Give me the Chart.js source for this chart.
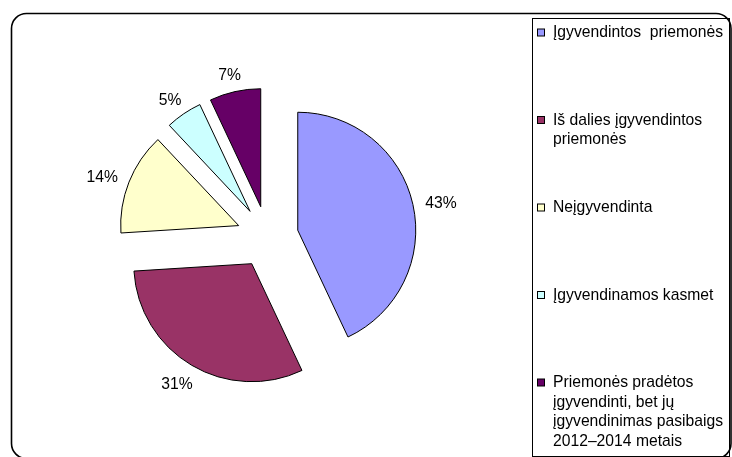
<!DOCTYPE html>
<html>
<head>
<meta charset="utf-8">
<script src="https://cdn.jsdelivr.net/npm/chart.js@4/dist/chart.umd.min.js"></script>
<style>
  html, body { margin: 0; padding: 0; background: #fff; }
  #chart { display: block; }
</style>
</head>
<body>
<canvas id="chart" width="732" height="457"></canvas>
<script>
// legend text, one array per slice (already broken into the lines shown)
const categories = [
  ['Įgyvendintos  priemonės'],
  ['Iš dalies įgyvendintos', 'priemonės'],
  ['Neįgyvendinta'],
  ['Įgyvendinamos kasmet'],
  ['Priemonės pradėtos', 'įgyvendinti, bet jų', 'įgyvendinimas pasibaigs', '2012–2014 metais'],
];
const shares = [43, 31, 14, 5, 7];
const sliceColors = ['#9999ff', '#993366', '#ffffcc', '#ccffff', '#660066'];

const FONT = '15.7px "Liberation Sans", Arial, sans-serif';
const EXPLODE = 31;      // how far every slice is pulled out of the centre
const LABEL_GAP = 13;

// Chart.js' own arc offset also bends the wedge, so pull the slices out by hand
const explodedPie = {
  id: 'explodedPie',
  beforeDatasetDraw(chart, args) {
    const ctx = chart.ctx;
    args.meta.data.forEach(arc => {
      const mid = (arc.startAngle + arc.endAngle) / 2;
      ctx.save();
      ctx.translate(Math.cos(mid) * EXPLODE, Math.sin(mid) * EXPLODE);
      arc.draw(ctx, chart.chartArea);
      ctx.restore();
    });
    return false;
  },
  afterDatasetsDraw(chart) {
    const ctx = chart.ctx;
    const meta = chart.getDatasetMeta(0);
    ctx.save();
    ctx.font = FONT;
    ctx.fillStyle = '#000';
    ctx.textAlign = 'center';
    ctx.textBaseline = 'middle';
    meta.data.forEach((arc, i) => {
      const mid = (arc.startAngle + arc.endAngle) / 2;
      const dx = Math.cos(mid);
      const dy = Math.sin(mid);
      const text = shares[i] + '%';
      const w = ctx.measureText(text).width;
      const r = EXPLODE + arc.outerRadius + LABEL_GAP;
      ctx.fillText(text, arc.x + dx * (r + w / 2), arc.y + dy * (r + 6) + 3);
    });
    ctx.restore();
  },
};

const frameAndLegend = {
  id: 'frameAndLegend',
  beforeDraw(chart) {
    const ctx = chart.ctx;
    ctx.save();
    ctx.strokeStyle = '#000';
    ctx.lineWidth = 1.6;
    ctx.beginPath();
    ctx.roundRect(11.5, 13.5, 719.5, 445, 15);
    ctx.stroke();
    ctx.restore();
  },
  afterDraw(chart) {
    const ctx = chart.ctx;
    const colors = chart.data.datasets[0].backgroundColor;
    ctx.save();
    ctx.strokeStyle = '#000';
    ctx.lineWidth = 1;
    ctx.strokeRect(532.5, 18.5, 197, 438);

    ctx.font = FONT;
    ctx.textAlign = 'left';
    ctx.textBaseline = 'middle';
    chart.data.labels.forEach((lines, i) => {
      const top = 33 + i * 87.5;
      ctx.fillStyle = colors[i];
      ctx.fillRect(537.5, top - 4, 7, 7);
      ctx.strokeRect(537.5, top - 4, 7, 7);
      ctx.fillStyle = '#000';
      lines.forEach((line, j) => ctx.fillText(line, 553, top + j * 19.5));
    });
    ctx.restore();
  },
};

new Chart(document.getElementById('chart'), {
  type: 'pie',
  data: {
    labels: categories,
    datasets: [{
      data: shares,
      backgroundColor: sliceColors,
      borderColor: '#000',
      borderWidth: 1,
    }],
  },
  options: {
    responsive: false,
    animation: false,
    radius: 118,
    layout: { padding: { left: 20, right: 217, top: 40, bottom: 23 } },
    plugins: {
      legend: { display: false },
      tooltip: { enabled: false },
    },
  },
  plugins: [frameAndLegend, explodedPie],
});
</script>
</body>
</html>
